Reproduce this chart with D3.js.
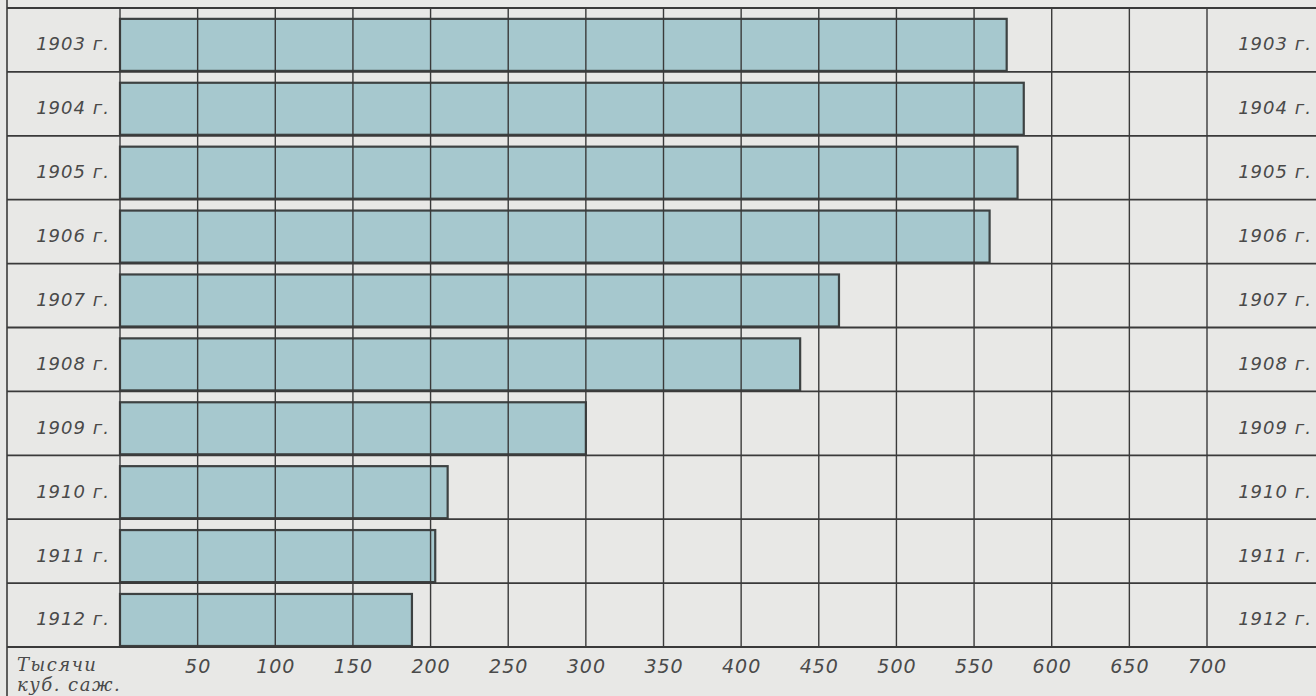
<!DOCTYPE html>
<html>
<head>
<meta charset="utf-8">
<script src="https://cdn.jsdelivr.net/npm/d3@7"></script>
<style>
  html, body { margin: 0; padding: 0; background: #e8e8e6; }
  svg { display: block; }
</style>
</head>
<body>
<svg id="chart" width="1316" height="696"></svg>
<script>
// ---- data ----
const years = ["1903", "1904", "1905", "1906", "1907", "1908", "1909", "1910", "1911", "1912"];
const values = [571, 582, 578, 560, 463, 438, 300, 211, 203, 188]; // тысячи куб. саж.
const tickValues = [50, 100, 150, 200, 250, 300, 350, 400, 450, 500, 550, 600, 650, 700];
const yearSuffix = " г.";
const unitLines = ["Тысячи", "куб. саж."];

// ---- layout ----
const W = 1316, H = 696;
const svg = d3.select("#chart");
const gridTop = 8, gridBottom = 647, leftBorder = 7;

const x = d3.scaleLinear().domain([0, 700]).range([120, 1207]);
const y = d3.scaleBand().domain(years).range([gridTop, gridBottom]).padding(0);
const bw = y.bandwidth();
const gap = bw * 0.17;

const lineColor = "#3a3a3a";
const textColor = "#4a4a4a";

svg.append("rect").attr("width", W).attr("height", H).attr("fill", "#e8e8e6");

// bars
svg.append("g").selectAll("rect")
  .data(years.map((yr, i) => ({ yr, v: values[i] })))
  .join("rect")
  .attr("x", x(0))
  .attr("y", d => y(d.yr) + gap)
  .attr("width", d => x(d.v) - x(0))
  .attr("height", bw - gap - 1)
  .attr("fill", "#a6c8ce")
  .attr("stroke", "#3d4242")
  .attr("stroke-width", 2.2);

// vertical grid lines (0 .. 700)
svg.append("g").selectAll("line")
  .data([0].concat(tickValues))
  .join("line")
  .attr("x1", d => x(d)).attr("x2", d => x(d))
  .attr("y1", gridTop).attr("y2", gridBottom)
  .attr("stroke", lineColor).attr("stroke-width", 1.4);

// horizontal row lines
const rowEdges = years.map(yr => y(yr)).concat([gridBottom]);
svg.append("g").selectAll("line")
  .data(rowEdges)
  .join("line")
  .attr("x1", leftBorder).attr("x2", W)
  .attr("y1", d => d).attr("y2", d => d)
  .attr("stroke", lineColor).attr("stroke-width", 1.8);

// left border
svg.append("line")
  .attr("x1", leftBorder).attr("x2", leftBorder)
  .attr("y1", 0).attr("y2", H)
  .attr("stroke", lineColor).attr("stroke-width", 1.6);

// year labels, left and right
const labelFont = "'DejaVu Sans', sans-serif";
[73, 1275].forEach(cx => {
  svg.append("g").selectAll("text")
    .data(years)
    .join("text")
    .attr("x", cx)
    .attr("y", d => y(d) + gap + (bw - gap) / 2)
    .attr("text-anchor", "middle")
    .attr("dominant-baseline", "middle")
    .attr("font-family", labelFont)
    .attr("font-style", "italic")
    .attr("font-size", 18)
    .attr("letter-spacing", 1)
    .attr("fill", textColor)
    .text(d => d + yearSuffix);
});

// bottom axis labels
const axis = d3.axisBottom(x).tickValues(tickValues).tickSize(0).tickPadding(13);
const ag = svg.append("g").attr("transform", `translate(0,${gridBottom})`).call(axis);
ag.select(".domain").remove();
ag.selectAll("text")
  .attr("font-family", labelFont)
  .attr("font-style", "italic")
  .attr("font-size", 19)
  .attr("letter-spacing", 1)
  .attr("fill", textColor);

// unit label
svg.append("g").selectAll("text")
  .data(unitLines)
  .join("text")
  .attr("x", 17)
  .attr("y", (d, i) => 671 + i * 20)
  .attr("font-family", "'DejaVu Serif', serif")
  .attr("font-style", "italic")
  .attr("font-size", 18)
  .attr("letter-spacing", 1.5)
  .attr("fill", textColor)
  .text(d => d);
</script>
</body>
</html>
